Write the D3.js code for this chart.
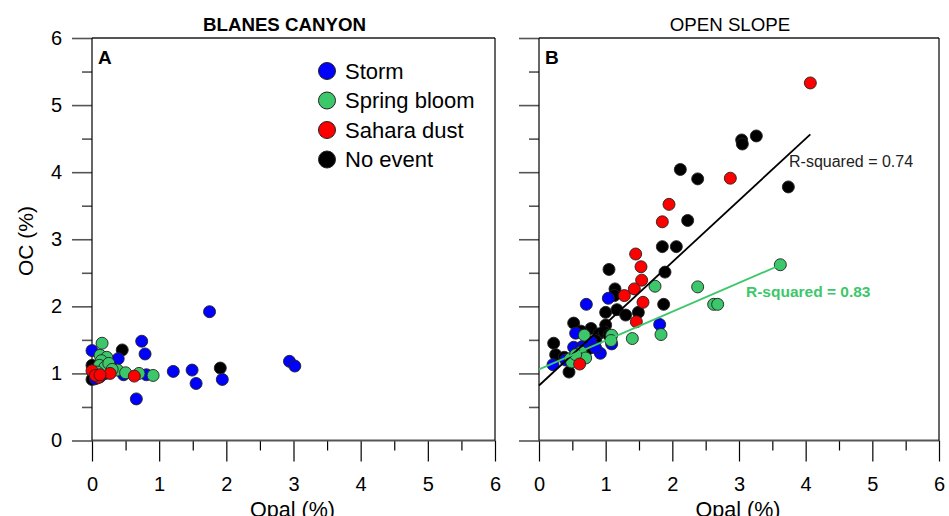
<!DOCTYPE html>
<html>
<head>
<meta charset="utf-8">
<script src="https://cdn.jsdelivr.net/npm/d3@7"></script>
<style>
  html, body { margin: 0; padding: 0; background: #fff; }
  svg { display: block; font-family: "Liberation Sans", Arial, sans-serif; }
</style>
</head>
<body>
<svg id="chart" width="949" height="516"></svg>
<script>
// Organic carbon vs. opal content, by event type
const panelTitles = ["BLANES CANYON", "OPEN SLOPE"];
const panelLetters = ["A", "B"];
const seriesNames = ["Storm", "Spring bloom", "Sahara dust", "No event"];
const seriesColors = ["#0000ff", "#3cc76a", "#ff0000", "#000000"];
const axisTicks = [0, 1, 2, 3, 4, 5, 6];

// Blanes Canyon: [opal %, OC %]
const canyonStorm = [[0,1.34],[0.74,1.48],[0.79,1.29],[0.39,1.22],[1.75,1.92],[0.47,0.98],[0.81,0.98],
  [1.21,1.03],[1.49,1.05],[1.55,0.85],[1.94,0.91],[0.66,0.62],[2.94,1.18],[3.02,1.11],[0.05,0.92],[0.12,0.95]];
const canyonBloom = [[0.15,1.45],[0.12,1.27],[0.22,1.24],[0.14,1.19],[0.11,1.12],[0.19,1.09],[0.38,1.05],
  [0.5,1.01],[0.7,1.0],[0.91,0.97],[0.25,1.15],[0.3,1.06],[0.08,1.02]];
const canyonDust = [[0,1.04],[0.1,0.94],[0.27,1.0],[0.63,0.96],[0.05,0.97],[0.12,0.98]];
const canyonNone = [[0.45,1.35],[0,1.12],[0,0.91],[1.91,1.08],[0.05,1.05],[0.2,1.0]];

// Open slope: [opal %, OC %]
const slopeStorm = [[0.71,2.03],[1.04,2.12],[1.81,1.73],[0.55,1.60],[0.78,1.47],[1.09,1.44],[0.52,1.39],
  [0.92,1.30],[0.21,1.13],[0.65,1.40],[0.6,1.35],[0.85,1.38],[0.4,1.2]];
const slopeBloom = [[3.62,2.62],[1.74,2.30],[2.38,2.29],[2.62,2.03],[2.68,2.03],[1.83,1.58],[1.40,1.52],
  [0.68,1.57],[1.09,1.57],[1.08,1.49],[0.63,1.32],[0.47,1.22],[0.49,1.17],[0.70,1.23],[0.55,1.28]];
const slopeDust = [[4.07,5.33],[2.87,3.91],[1.95,3.52],[1.85,3.26],[1.45,2.78],[1.53,2.59],[1.54,2.39],
  [1.43,2.26],[1.28,2.16],[1.56,2.06],[1.46,1.77],[0.61,1.14]];
const slopeNone = [[3.26,4.54],[3.04,4.48],[3.05,4.42],[3.74,3.78],[2.12,4.04],[2.38,3.90],[2.23,3.28],
  [1.85,2.89],[2.06,2.89],[1.89,2.51],[1.14,2.26],[1.13,2.16],[1.87,2.03],[1.0,1.91],[1.17,1.95],[1.30,1.87],
  [1.49,1.91],[1.05,2.55],[0.52,1.75],[0.78,1.67],[1.0,1.72],[0.63,1.63],[0.90,1.59],[0.98,1.62],[1.05,1.57],
  [0.85,1.49],[0.22,1.45],[0.25,1.28],[0.38,1.24],[0.45,1.02],[0.75,1.37]];

// Linear fits for the open slope (all samples, spring bloom only)
const fitAll = { slope: 0.92, intercept: 0.82, xMax: 4.07, label: "R-squared = 0.74" };
const fitBloom = { slope: 0.43, intercept: 1.06, xMax: 3.62, label: "R-squared = 0.83" };

const svg = d3.select("#chart");
const y = d3.scaleLinear().domain([0, 6]).range([440.5, 38]);
const xScales = [
  d3.scaleLinear().domain([0, 6]).range([92, 495]),
  d3.scaleLinear().domain([0, 6]).range([539, 939])
];
const minorTicks = d3.range(0.5, 6, 1);

const panels = [
  [canyonStorm, canyonBloom, canyonDust, canyonNone],
  [slopeStorm, slopeBloom, slopeDust, slopeNone]
];
const drawOrder = [3, 0, 1, 2];

panels.forEach((series, p) => {
  const x = xScales[p];
  const g = svg.append("g");

  // ticks
  const yMajor = g.append("g").attr("transform", `translate(${x(0)},0)`)
    .call(d3.axisLeft(y).tickValues(axisTicks).tickSize(20).tickFormat(p === 0 ? d3.format("d") : ""));
  const yMinor = g.append("g").attr("transform", `translate(${x(0)},0)`)
    .call(d3.axisLeft(y).tickValues(minorTicks).tickSize(10).tickFormat(""));
  const xMajor = g.append("g").attr("transform", `translate(0,${y(0)})`)
    .call(d3.axisBottom(x).tickValues(axisTicks).tickSize(21).tickFormat(d3.format("d")));
  const xMinor = g.append("g").attr("transform", `translate(0,${y(0)})`)
    .call(d3.axisBottom(x).tickValues(minorTicks).tickSize(10).tickFormat(""));
  [yMajor, yMinor, xMajor, xMinor].forEach(a => {
    a.select(".domain").remove();
    a.selectAll("text").attr("font-size", 20).attr("fill", "#000")
      .attr("font-family", "'Liberation Sans', Arial, sans-serif");
  });
  [yMajor, yMinor].forEach(a => a.selectAll("line").attr("stroke", "#555").attr("stroke-width", 1.6));
  [xMajor, xMinor].forEach(a => a.selectAll("line").attr("stroke", "#000").attr("stroke-width", 1.2));
  yMajor.selectAll("text").attr("x", -30);
  xMajor.selectAll("text").attr("dy", null).attr("y", 50.5);

  // frame
  g.append("line").attr("x1", x(0)).attr("x2", x(6)).attr("y1", y(6)).attr("y2", y(6))
    .attr("stroke", "#555").attr("stroke-width", 1.8);
  g.append("line").attr("x1", x(0)).attr("x2", x(6)).attr("y1", y(0)).attr("y2", y(0))
    .attr("stroke", "#555").attr("stroke-width", 1.8);
  g.append("line").attr("x1", x(0)).attr("x2", x(0)).attr("y1", y(6)).attr("y2", y(0))
    .attr("stroke", "#000").attr("stroke-width", 1.2);
  g.append("line").attr("x1", x(6)).attr("x2", x(6)).attr("y1", y(6)).attr("y2", y(0))
    .attr("stroke", "#000").attr("stroke-width", 1.2);

  // title, panel letter, x label
  g.append("text").attr("x", (x(0) + x(6)) / 2 - 9).attr("y", 31).attr("text-anchor", "middle")
    .attr("font-size", 18.7).attr("font-weight", p === 0 ? "bold" : "normal").text(panelTitles[p]);
  g.append("text").attr("x", x(0) + 6).attr("y", 64).attr("font-size", 19).attr("font-weight", "bold")
    .text(panelLetters[p]);
  g.append("text").attr("x", (x(0) + x(6)) / 2 - 1).attr("y", 516.5).attr("text-anchor", "middle")
    .attr("font-size", 21.5).text("Opal (%)");

  // points
  drawOrder.forEach(s => {
    g.append("g").selectAll("circle").data(series[s]).join("circle")
      .attr("cx", d => x(d[0])).attr("cy", d => y(d[1])).attr("r", 6)
      .attr("fill", seriesColors[s]).attr("stroke", "#222").attr("stroke-width", 0.9);
  });

  if (p === 1) {
    const fits = [[fitAll, "#000"], [fitBloom, "#3cc76a"]];
    fits.forEach(([f, c]) => {
      g.append("line")
        .attr("x1", x(0)).attr("y1", y(f.intercept))
        .attr("x2", x(f.xMax)).attr("y2", y(f.intercept + f.slope * f.xMax))
        .attr("stroke", c).attr("stroke-width", 1.8);
    });
    g.append("text").attr("x", 789).attr("y", 167).attr("font-size", 16).attr("fill", "#222")
      .text(fitAll.label);
    g.append("text").attr("x", 746).attr("y", 297).attr("font-size", 15.5).attr("font-weight", "bold")
      .attr("fill", "#3cc76a").text(fitBloom.label);
  }
});

// legend
const legend = svg.append("g");
seriesNames.forEach((name, i) => {
  const cy = 71 + i * 29.5;
  legend.append("circle").attr("cx", 327).attr("cy", cy).attr("r", 8.5)
    .attr("fill", seriesColors[i]).attr("stroke", "#222").attr("stroke-width", 1);
  legend.append("text").attr("x", 345).attr("y", cy + 7.5).attr("font-size", 22).text(name);
});

// y label
svg.append("text").attr("transform", "translate(33,241) rotate(-90)").attr("text-anchor", "middle")
  .attr("font-size", 21).text("OC (%)");
</script>
</body>
</html>
